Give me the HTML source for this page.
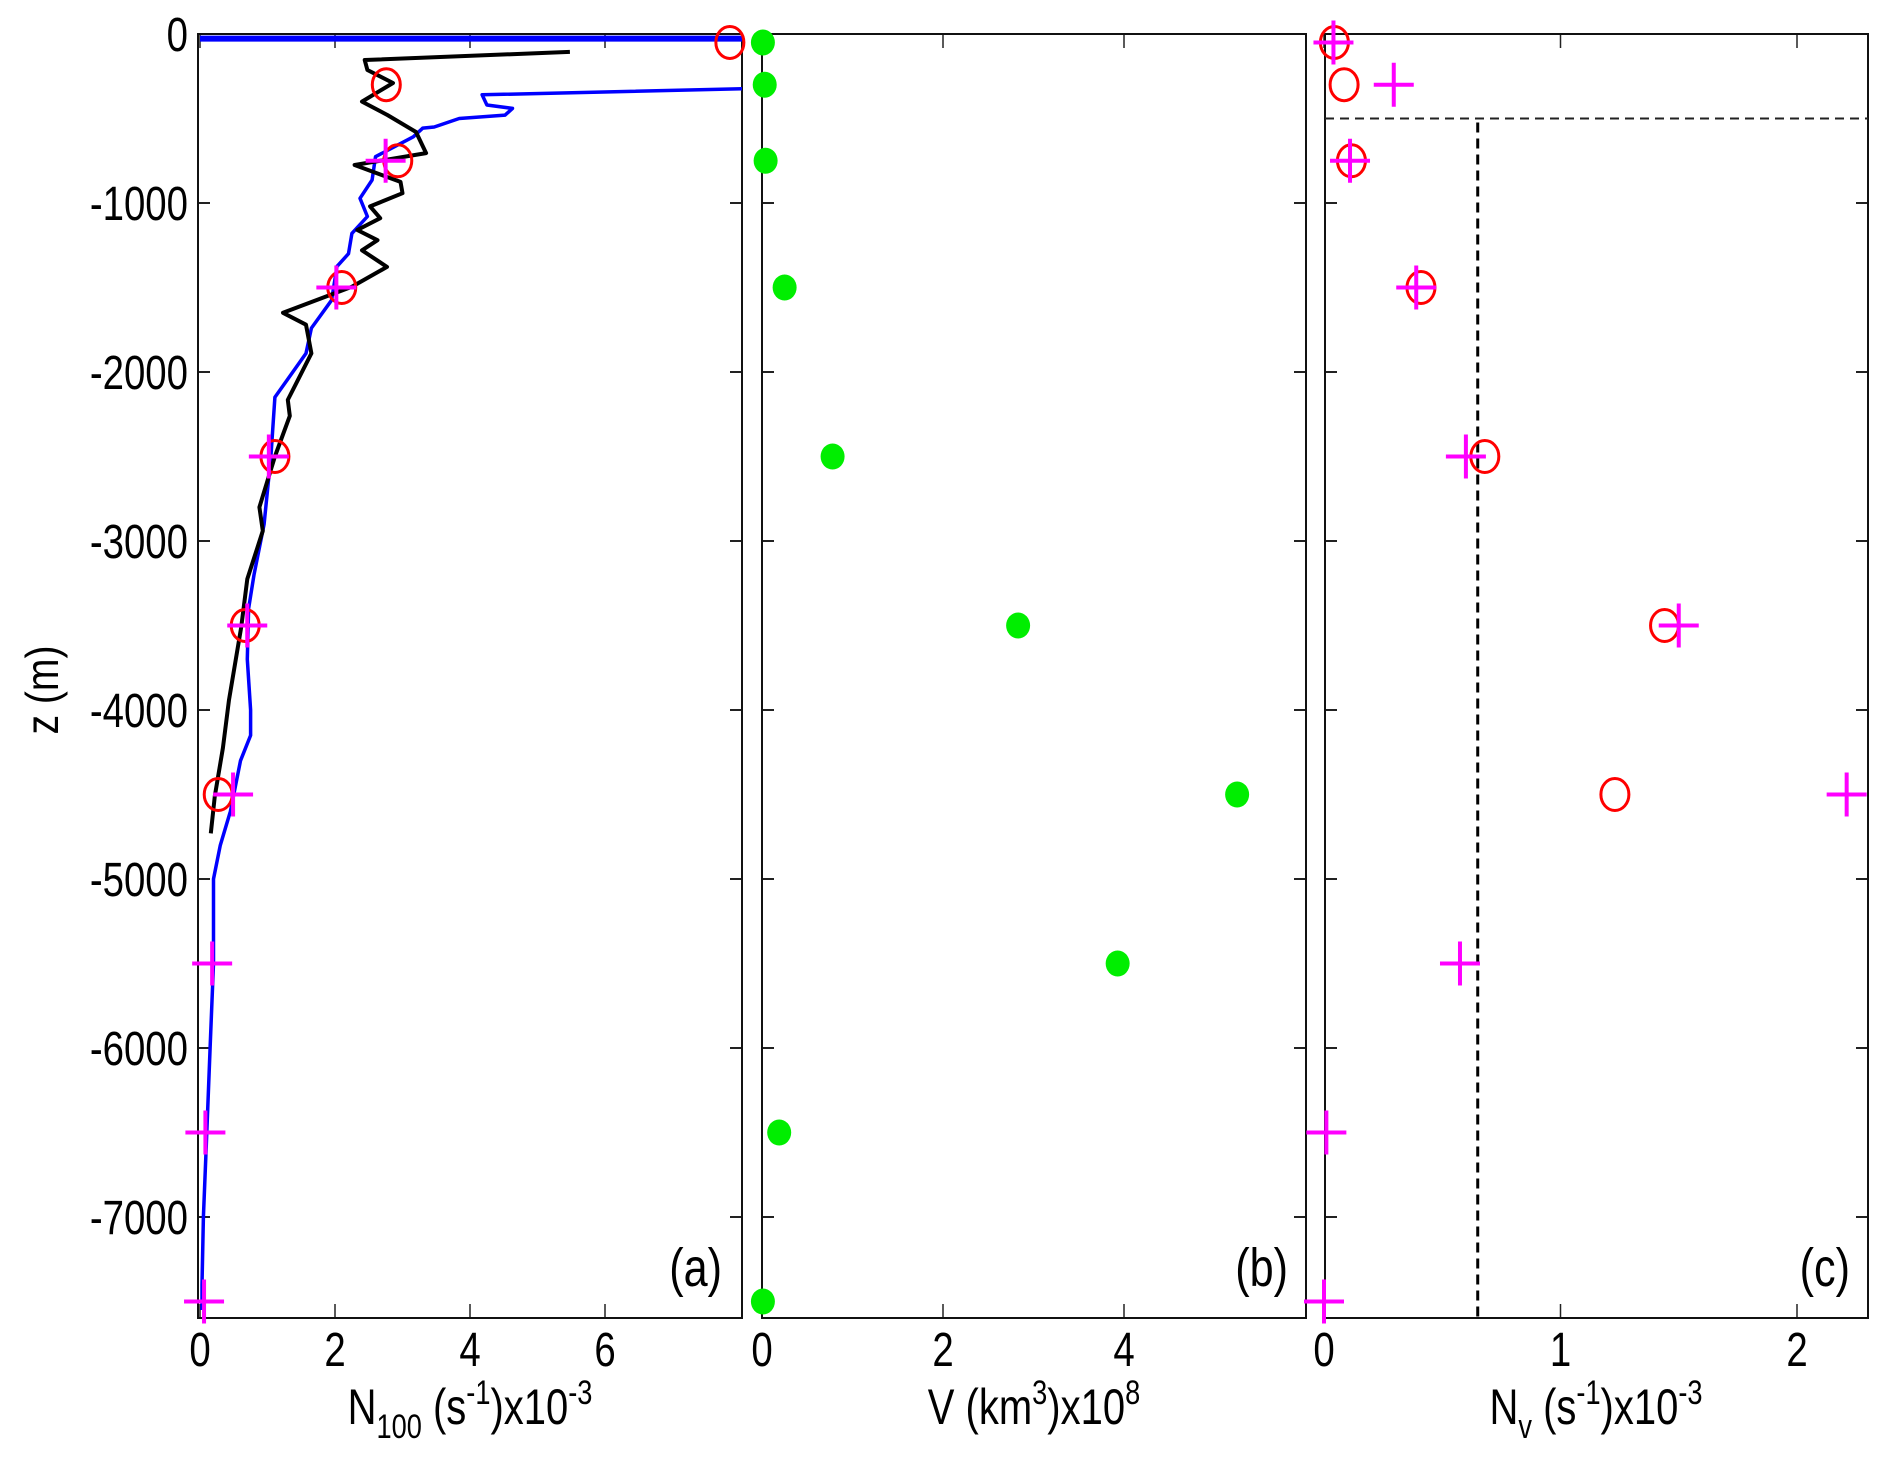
<!DOCTYPE html>
<html><head><meta charset="utf-8"><style>
html,body{margin:0;padding:0;background:#fff;}
svg text{font-family:"Liberation Sans",Arial,sans-serif;fill:#000;}
</style></head><body>
<svg id="fig" width="1892" height="1475" viewBox="0 0 1892 1475" xmlns="http://www.w3.org/2000/svg"></svg>
<script>
// ---- data ----
const depths = [-50,-300,-750,-1500,-2500,-3500,-4500,-5500,-6500,-7500];
const aCircleN = [7.85,2.76,2.93,2.1,1.11,0.67,0.27];
const aPlusN = [null,null,2.75,2.02,1.02,0.7,0.49,0.18,0.08,0.06];
const bVolume = [0.01,0.03,0.04,0.25,0.78,2.83,5.25,3.93,0.19,0.01];
const cCircleN = [0.044,0.085,0.116,0.41,0.68,1.44,1.23];
const cPlusN = [0.04,0.295,0.11,0.39,0.6,1.5,2.21,0.575,0.01,0.0];
const blueTopN = [0,9];
const blueTopZ = [-27,-27];
const blueN = [9,4.18,4.25,4.63,4.52,3.84,3.47,3.3,3.16,2.6,2.55,2.37,2.48,2.25,2.2,2.03,1.95,1.65,1.57,1.11,1.05,0.95,0.8,0.72,0.7,0.75,0.75,0.6,0.45,0.3,0.2,0.2,0.15,0.1,0.05,0.03,0.03];
const blueZ = [-315,-360,-420,-440,-480,-500,-550,-557,-608,-726,-864,-972,-1080,-1180,-1300,-1375,-1575,-1740,-1890,-2150,-2500,-2900,-3200,-3400,-3700,-4000,-4150,-4300,-4600,-4800,-5000,-5500,-6000,-6500,-7000,-7400,-7550];
const blackN = [5.48,2.44,2.48,2.86,2.4,2.78,3.2,3.35,2.29,2.97,3.0,2.52,2.67,2.33,2.63,2.4,2.77,2.25,1.23,1.57,1.65,1.3,1.33,1.11,0.88,0.93,0.7,0.61,0.43,0.34,0.22,0.16];
const blackZ = [-106,-154,-213,-290,-400,-480,-580,-705,-775,-875,-942,-1020,-1090,-1160,-1220,-1280,-1378,-1495,-1650,-1720,-1890,-2165,-2260,-2500,-2800,-2940,-3225,-3510,-3940,-4225,-4510,-4730];
const yTicks = [0,-1000,-2000,-3000,-4000,-5000,-6000,-7000];
const aTicks = [0,2,4,6];
const bTicks = [0,2,4];
const cTicks = [0,1,2];
const dashZ = -500;
const dashN = 0.65;

// ---- axes ----
const NS="http://www.w3.org/2000/svg";
const svg=document.getElementById('fig');
const TOP=34, BOT=1318;
const yS = z => TOP + (-z)/1000*169;
const panels = {
 a:{l:198,r:742,x:v=>200+v*67.5},
 b:{l:762,r:1306,x:v=>762+v*90.5},
 c:{l:1325,r:1868,x:v=>1324+v*236.5}
};
function mk(tag,attrs,parent){const e=document.createElementNS(NS,tag);for(const k in attrs)e.setAttribute(k,attrs[k]);(parent||svg).appendChild(e);return e;}
function clipFor(id,p){const d=mk('defs',{});const c=mk('clipPath',{id:id},d);mk('rect',{x:p.l,y:TOP,width:p.r-p.l,height:BOT-TOP},c);}
clipFor('ca',panels.a);clipFor('cb',panels.b);clipFor('cc',panels.c);
const SX=0.8;
function txt(x,y,size,anchor,parent){return mk('text',{x:0,y:0,'font-size':size,'text-anchor':anchor,transform:'translate('+x+','+y+') scale('+SX+',1)'},parent);}

function axesFor(key,ticks){
 const p=panels[key];
 const g=mk('g',{});
 
 
 for(const t of yTicks){const y=yS(t);
  mk('line',{x1:p.l,y1:y,x2:p.l+12,y2:y,stroke:'#222','stroke-width':2},g);
  mk('line',{x1:p.r-12,y1:y,x2:p.r,y2:y,stroke:'#222','stroke-width':2},g);}
 for(const t of ticks){const x=p.x(t);
  mk('line',{x1:x,y1:BOT,x2:x,y2:BOT-14,stroke:'#222','stroke-width':1.5},g);
  mk('line',{x1:x,y1:TOP,x2:x,y2:TOP+14,stroke:'#222','stroke-width':1.5},g);
  const tx=txt(x,1366,48,'middle',g);
  
  
  tx.textContent=t;}
 return g;
}
function frame(key){const p=panels[key];
 const r=mk('rect',{x:p.l,y:TOP,width:p.r-p.l,height:BOT-TOP,fill:'none',stroke:'#111','stroke-width':2});
 
 }
axesFor('a',aTicks);axesFor('b',bTicks);axesFor('c',cTicks);
frame('a');frame('b');frame('c');

for(const t of yTicks){
 const tx=txt(188,yS(t)+17,48,'end');
 
 
 tx.textContent=t;}
const yl=mk('text',{x:0,y:0,'font-size':46,'text-anchor':'middle',transform:'translate(58,690) rotate(-90) scale(0.85,1)'});


yl.textContent='z (m)';

function xlabel(cx,html,name){
 const t=txt(cx,1424,50,'middle');
 
 
 t.innerHTML=html;}
xlabel(470,'N<tspan font-size="34" dy="14">100</tspan><tspan dy="-14"> (s</tspan><tspan font-size="34" dy="-20">-1</tspan><tspan dy="20">)x10</tspan><tspan font-size="34" dy="-20">-3</tspan>','x-axis-title-a');
xlabel(1034,'V (km<tspan font-size="34" dy="-20">3</tspan><tspan dy="20">)x10</tspan><tspan font-size="34" dy="-20">8</tspan>','x-axis-title-b');
xlabel(1596,'N<tspan font-size="34" dy="14">v</tspan><tspan dy="-14"> (s</tspan><tspan font-size="34" dy="-20">-1</tspan><tspan dy="20">)x10</tspan><tspan font-size="34" dy="-20">-3</tspan>','x-axis-title-c');

const plab=[['a',722],['b',1288],['c',1850]];
for(const [k,x] of plab){const t=txt(x,1286,54,'end');
 
 
 t.textContent='('+k+')';}

function poly(Ns,Zs,xf,color,w,clip,name){
 const pts=Ns.map((n,i)=>xf(n).toFixed(1)+','+yS(Zs[i]).toFixed(1)).join(' ');
 const pl=mk('polyline',{points:pts,fill:'none',stroke:color,'stroke-width':w,'stroke-linejoin':'round','clip-path':'url(#'+clip+')'});
 
 }
poly(blueTopN,blueTopZ,panels.a.x,'#0000ff',6,'ca','blue-profile-surface');
poly(blueN,blueZ,panels.a.x,'#0000ff',3.5,'ca','blue-profile');
poly(blackN,blackZ,panels.a.x,'#000',4,'ca','black-profile');

function circle(x,y,name){const c=mk('ellipse',{cx:x,cy:y,rx:14,ry:16,fill:'none',stroke:'#ff0000','stroke-width':3});
 
 }
function plus(x,y,name){const g=mk('g',{stroke:'#ff00ff','stroke-width':4});
 
 
 mk('line',{x1:x-20,y1:y,x2:x+20,y2:y},g);mk('line',{x1:x,y1:y-22,x2:x,y2:y+22},g);}

aCircleN.forEach((v,i)=>circle(panels.a.x(v),yS(depths[i]),'circle-a'));
aPlusN.forEach((v,i)=>{if(v!==null)plus(panels.a.x(v),yS(depths[i]),'plus-a');});

bVolume.forEach((v,i)=>{const c=mk('ellipse',{cx:panels.b.x(v),cy:yS(depths[i]),rx:12,ry:13,fill:'#00ee00'});
 
 });

const dh=mk('line',{x1:panels.c.l,y1:yS(dashZ),x2:panels.c.r,y2:yS(dashZ),stroke:'#222','stroke-width':2,'stroke-dasharray':'9,6'});


const dv=mk('line',{x1:panels.c.x(dashN),y1:yS(dashZ)+4,x2:panels.c.x(dashN),y2:BOT,stroke:'#000','stroke-width':3,'stroke-dasharray':'10,6'});


cCircleN.forEach((v,i)=>circle(panels.c.x(v),yS(depths[i]),'circle-c'));
cPlusN.forEach((v,i)=>plus(panels.c.x(v),yS(depths[i]),'plus-c'));
</script>
</body></html>
